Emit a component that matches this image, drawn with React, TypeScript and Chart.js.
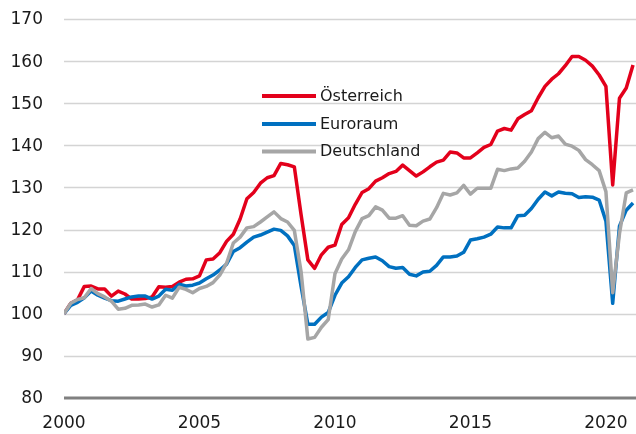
import React, { useEffect, useRef } from "react";
import { Chart, registerables } from "chart.js";

Chart.register(...registerables);

// Quarterly index values, 2000Q1 = 100, from 2000Q1 to 2021Q1
const seriesNames = ["Österreich", "Euroraum", "Deutschland"];

const austria = [
  100, 102.5, 103.3, 106.5, 106.6, 105.9, 105.9, 104.2, 105.4, 104.7,
  103.5, 103.5, 103.6, 104, 106.4, 106.3, 106.5, 107.5, 108.2, 108.3,
  109, 112.8, 113, 114.5, 117.2, 118.9, 122.5, 127.3, 128.8, 131,
  132.3, 132.8, 135.7, 135.4, 134.9, 123.5, 112.8, 110.8, 114, 115.8,
  116.3, 121.2, 122.8, 126, 128.8, 129.7, 131.5, 132.3, 133.3, 133.8,
  135.3, 134, 132.7, 133.7, 134.9, 136, 136.5, 138.4, 138.2, 137,
  137, 138.2, 139.5, 140.2, 143.4, 144, 143.6, 146.3, 147.3, 148.2,
  151.3, 154, 155.7, 157, 158.9, 161.1, 161.1, 160.2, 158.8, 156.7,
  154, 130.6, 151.2, 153.6, 159.1,
];

const euroArea = [
  100, 102, 102.7, 103.8, 105.4, 104.4, 103.7, 103.1, 103, 103.5,
  104, 104.2, 104.2, 103.5, 104.2, 105.8, 105.6, 107, 106.6, 106.8,
  107.3, 108.3, 109.2, 110.4, 111.8, 114.8, 115.7, 117, 118.2, 118.7,
  119.4, 120.1, 119.8, 118.5, 116.2, 106.5, 97.5, 97.5, 99.2, 100.3,
  104.4, 107.3, 108.8, 111, 112.8, 113.2, 113.5, 112.6, 111.2, 110.8,
  111, 109.4, 109, 109.9, 110.1, 111.5, 113.5, 113.5, 113.7, 114.6,
  117.5, 117.8, 118.2, 118.9, 120.6, 120.4, 120.4, 123.3, 123.4, 125,
  127.2, 128.9, 128, 128.9, 128.6, 128.5, 127.6, 127.8, 127.7, 127,
  122, 102.5, 120.8, 124.6, 126.3,
];

const germany = [
  100, 102.5, 103.4, 103.8, 106, 104.8, 104, 103, 101.1, 101.3,
  102, 102.1, 102.3, 101.6, 102.1, 104.4, 103.7, 106.3, 105.8, 105,
  106, 106.5, 107.4, 109.2, 112, 116.8, 118.2, 120.4, 120.7, 121.8,
  123, 124.2, 122.6, 121.8, 119.8, 110, 94, 94.4, 96.8, 98.6,
  109.5, 113, 115.2, 119.5, 122.6, 123.3, 125.4, 124.6, 122.7, 122.7,
  123.3, 121, 120.9, 122, 122.5, 125.2, 128.6, 128.2, 128.7, 130.5,
  128.4, 129.8, 129.8, 129.8, 134.3, 134, 134.4, 134.6, 136.2, 138.4,
  141.6, 143.1, 141.8, 142.2, 140.3, 139.8, 138.8, 136.6, 135.4, 134,
  129, 105, 119, 128.7, 129.4,
];

// x ticks: quarter index (0 = 2000Q1) and their labels
const xTickValues = [0, 20, 40, 60, 80];
const xTickLabels = ["2000", "2005", "2010", "2015", "2020"];
const yTicks = [80, 90, 100, 110, 120, 130, 140, 150, 160, 170];
const X_MIN = 0;
const X_MAX = 84.44;
const Y_MIN = 80;
const Y_MAX = 170;

const COLORS = ["#E3001B", "#0070C0", "#A6A6A6"];
const FONT = "'DejaVu Sans', sans-serif";
const TEXT = "#1a1a1a";

const toPoints = (arr: number[]) => arr.map((v, i) => ({ x: i, y: v }));

// gridlines, axis line and tick labels, positioned through the chart's scales
const axesPlugin = {
  id: "customAxes",
  beforeDatasetsDraw(chart: any) {
    const { ctx, chartArea } = chart;
    const xs = chart.scales.x;
    const ys = chart.scales.y;
    const left = xs.getPixelForValue(X_MIN);
    const right = chartArea.right;
    ctx.save();
    yTicks.forEach((v) => {
      if (v === Y_MIN) return;
      const y = Math.round(ys.getPixelForValue(v)) + 0.5;
      ctx.strokeStyle = "#D4D4D4";
      ctx.lineWidth = 1.5;
      ctx.beginPath();
      ctx.moveTo(left, y);
      ctx.lineTo(right, y);
      ctx.stroke();
    });
    const yb = ys.getPixelForValue(Y_MIN);
    ctx.strokeStyle = "#808080";
    ctx.lineWidth = 3;
    ctx.beginPath();
    ctx.moveTo(left, yb);
    ctx.lineTo(right, yb);
    ctx.stroke();

    ctx.fillStyle = TEXT;
    ctx.font = `17px ${FONT}`;
    ctx.textAlign = "right";
    ctx.textBaseline = "middle";
    yTicks.forEach((v) => {
      ctx.fillText(String(v), left - 21, ys.getPixelForValue(v) + 1);
    });
    ctx.textAlign = "center";
    xTickValues.forEach((v, i) => {
      ctx.fillText(xTickLabels[i], xs.getPixelForValue(v), yb + 26);
    });
    ctx.restore();
  },
};

const legendPlugin = {
  id: "insideLegend",
  afterDraw(chart: any) {
    const ctx = chart.ctx;
    const x0 = 262;
    const x1 = 316;
    const tx = 320;
    const ys = [96, 124, 151.5];
    ctx.save();
    ctx.font = `16px ${FONT}`;
    ctx.textBaseline = "middle";
    ctx.textAlign = "left";
    chart.data.datasets.forEach((ds: any, i: number) => {
      const y = ys[i];
      ctx.strokeStyle = ds.borderColor;
      ctx.lineWidth = 4;
      ctx.lineCap = "butt";
      ctx.beginPath();
      ctx.moveTo(x0, y);
      ctx.lineTo(x1, y);
      ctx.stroke();
      ctx.fillStyle = TEXT;
      ctx.fillText(ds.label, tx, y + 0.5);
    });
    ctx.restore();
  },
};

export default function App() {
  const ref = useRef<HTMLCanvasElement | null>(null);

  useEffect(() => {
    if (!ref.current) return;
    const series = [austria, euroArea, germany];
    const chart = new Chart(ref.current, {
      type: "line",
      data: {
        datasets: series.map((s, i) => ({
          label: seriesNames[i],
          data: toPoints(s),
          borderColor: COLORS[i],
          backgroundColor: COLORS[i],
          borderWidth: 3.5,
          pointRadius: 0,
          tension: 0,
          fill: false,
          borderJoinStyle: "round" as const,
          order: [2, 1, 0][i],
        })),
      },
      options: {
        animation: false,
        responsive: false,
        devicePixelRatio: 1,
        layout: { padding: { top: 19, right: 0, left: 64, bottom: 36 } },
        plugins: {
          legend: { display: false },
          tooltip: { enabled: false },
        },
        scales: {
          x: { type: "linear", min: X_MIN, max: X_MAX, display: false },
          y: { type: "linear", min: Y_MIN, max: Y_MAX, display: false },
        },
      },
      plugins: [axesPlugin, legendPlugin],
    });
    return () => chart.destroy();
  }, []);

  return (
    <div style={{ position: "absolute", left: 0, top: 0, width: 636, height: 434, background: "#fff" }}>
      <canvas ref={ref} width={636} height={434} style={{ display: "block" }} />
    </div>
  );
}
